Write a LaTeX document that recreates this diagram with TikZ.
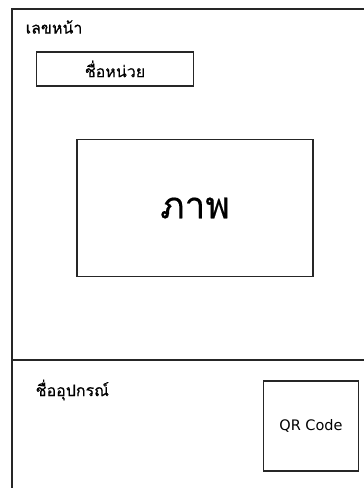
\documentclass[tikz,border=0pt]{standalone}
\usepackage{fontspec}
\setmainfont{DejaVu Sans}
\newfontfamily\thaifont[Script=Thai, FakeBold=0.4]{Loma}
\usetikzlibrary{positioning}

\begin{document}
\begin{tikzpicture}[x=1pt, y=-1pt, line width=1.4pt, draw=black!85,
    label/.style={font=\thaifont\fontsize{16}{18}\selectfont, anchor=west, inner sep=0pt},
    box/.style={draw, rectangle, inner sep=0pt, font=\thaifont\fontsize{16}{18}\selectfont}]
  \useasboundingbox (0,0) rectangle (364,488);
  \clip (0,0) rectangle (364,488);
  % page outline (runs past the right and bottom edge)
  \draw (12,500) -- (12,9) -- (376,9);
  \draw (12,360) -- (376,360);
  % top part
  \node[label] (page) at (25,27) {เลขหน้า};
  \node[box, minimum width=157pt, minimum height=34pt] (unit) at (115,69) {ชื่อหน่วย};
  \node[box, minimum width=236pt, minimum height=137pt,
        font=\thaifont\fontsize{37}{40}\selectfont] (photo) at (195,208) {ภาพ};
  % bottom part
  \node[label] (device) at (35,390) {ชื่ออุปกรณ์};
  \node[box, minimum width=95pt, minimum height=90pt,
        font=\fontsize{14.5}{17}\selectfont] (qr) at (311,426) {QR Code};
\end{tikzpicture}
\end{document}
